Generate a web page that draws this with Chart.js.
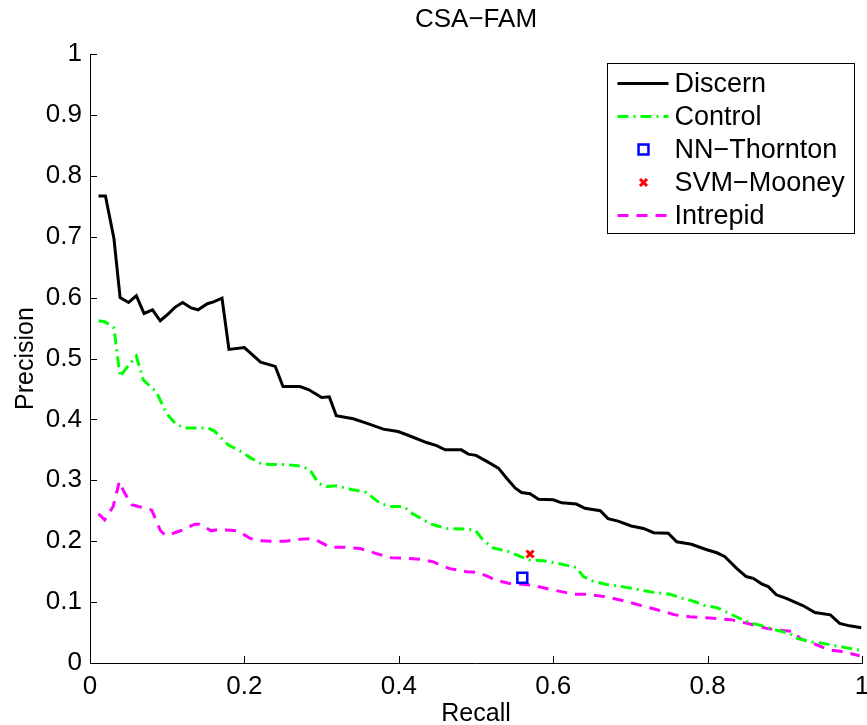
<!DOCTYPE html>
<html>
<head>
<meta charset="utf-8">
<title>CSA−FAM</title>
<script src="https://cdn.jsdelivr.net/npm/chart.js@4/dist/chart.umd.min.js"></script>
<style>
  html, body { margin: 0; padding: 0; background: #fff; }
  #wrap { width: 867px; height: 725px; }
</style>
</head>
<body>
<div id="wrap"><canvas id="prChart"></canvas></div>
<script>
// precision / recall values
const discernRecall = [0.011,0.020,0.031,0.039,0.050,0.060,0.070,0.081,0.091,0.101,0.110,0.120,0.131,0.140,0.152,0.160,0.171,0.180,0.200,0.221,0.240,0.250,0.272,0.283,0.291,0.300,0.310,0.319,0.341,0.358,0.380,0.399,0.412,0.436,0.449,0.460,0.481,0.490,0.500,0.514,0.529,0.540,0.551,0.559,0.570,0.581,0.600,0.611,0.630,0.641,0.661,0.671,0.684,0.701,0.717,0.730,0.749,0.760,0.779,0.799,0.812,0.822,0.838,0.850,0.859,0.870,0.879,0.889,0.902,0.924,0.939,0.959,0.971,0.984,0.999];
const discernPrecision = [0.767,0.767,0.697,0.600,0.592,0.603,0.574,0.580,0.562,0.573,0.584,0.592,0.583,0.580,0.590,0.593,0.599,0.515,0.518,0.494,0.487,0.454,0.454,0.449,0.443,0.436,0.437,0.406,0.401,0.394,0.384,0.380,0.374,0.362,0.357,0.350,0.350,0.343,0.341,0.331,0.320,0.303,0.287,0.280,0.278,0.269,0.268,0.263,0.261,0.254,0.250,0.237,0.233,0.225,0.221,0.214,0.213,0.199,0.195,0.186,0.181,0.175,0.155,0.142,0.139,0.130,0.125,0.112,0.106,0.094,0.083,0.079,0.065,0.061,0.058];

const controlRecall = [0.011,0.020,0.031,0.039,0.045,0.060,0.069,0.086,0.099,0.110,0.121,0.140,0.153,0.162,0.179,0.192,0.209,0.222,0.233,0.253,0.274,0.285,0.296,0.306,0.319,0.339,0.358,0.376,0.389,0.406,0.417,0.432,0.442,0.462,0.484,0.499,0.509,0.522,0.542,0.557,0.570,0.587,0.604,0.630,0.639,0.652,0.669,0.691,0.708,0.730,0.751,0.768,0.783,0.797,0.812,0.829,0.842,0.855,0.874,0.889,0.907,0.917,0.933,0.950,0.967,0.984,0.997];
const controlPrecision = [0.562,0.560,0.550,0.470,0.481,0.504,0.465,0.445,0.410,0.394,0.386,0.386,0.386,0.380,0.358,0.350,0.336,0.327,0.326,0.326,0.323,0.317,0.295,0.290,0.291,0.285,0.280,0.262,0.257,0.257,0.246,0.235,0.228,0.221,0.220,0.218,0.202,0.189,0.183,0.175,0.169,0.168,0.164,0.157,0.142,0.134,0.129,0.125,0.121,0.116,0.113,0.106,0.101,0.094,0.091,0.081,0.073,0.066,0.060,0.054,0.048,0.040,0.035,0.032,0.028,0.024,0.021];

const thorntonRecall = [0.560];
const thorntonPrecision = [0.140];
const mooneyRecall = [0.570];
const mooneyPrecision = [0.179];

const intrepidRecall = [0.011,0.019,0.030,0.038,0.044,0.054,0.063,0.080,0.084,0.091,0.097,0.108,0.119,0.136,0.142,0.157,0.166,0.183,0.192,0.207,0.216,0.235,0.253,0.270,0.287,0.296,0.311,0.330,0.350,0.370,0.390,0.410,0.430,0.445,0.455,0.466,0.488,0.501,0.516,0.525,0.542,0.572,0.596,0.626,0.643,0.661,0.678,0.695,0.712,0.730,0.758,0.777,0.803,0.831,0.855,0.876,0.892,0.911,0.920,0.937,0.959,0.974,0.997];
const intrepidPrecision = [0.245,0.235,0.257,0.298,0.281,0.260,0.257,0.251,0.239,0.218,0.210,0.213,0.218,0.228,0.228,0.217,0.219,0.218,0.217,0.205,0.201,0.200,0.200,0.203,0.204,0.200,0.190,0.190,0.188,0.180,0.173,0.172,0.170,0.166,0.160,0.155,0.150,0.149,0.142,0.136,0.131,0.128,0.121,0.113,0.113,0.110,0.106,0.101,0.095,0.089,0.079,0.076,0.074,0.071,0.064,0.057,0.054,0.052,0.040,0.032,0.021,0.019,0.012];

const xTicks = [0, 0.2, 0.4, 0.6, 0.8, 1];
const yTicks = [0, 0.1, 0.2, 0.3, 0.4, 0.5, 0.6, 0.7, 0.8, 0.9, 1];
const chartTitle = 'CSA−FAM';

const FONT = '"Liberation Sans", Arial, Helvetica, sans-serif';

function pairs(xs, ys) {
    return xs.map((x, i) => ({ x: x, y: ys[i] }));
}

function tickText(v) {
    return String(Number(v.toFixed(1)));
}

// MATLAB style ticks pointing into the axes, x labels drawn here so the
// last one may hang over the right edge like in the figure
const innerTicks = {
    id: 'innerTicks',
    beforeDatasetsDraw(chart) {
        const { ctx, chartArea, scales } = chart;
        ctx.save();
        ctx.strokeStyle = '#000';
        ctx.lineWidth = 1;
        ctx.beginPath();
        scales.x.ticks.forEach(t => {
            const px = Math.round(scales.x.getPixelForValue(t.value)) + 0.5;
            ctx.moveTo(px, chartArea.bottom);
            ctx.lineTo(px, chartArea.bottom - 7);
        });
        scales.y.ticks.forEach(t => {
            const py = Math.round(scales.y.getPixelForValue(t.value)) + 0.5;
            ctx.moveTo(chartArea.left, py);
            ctx.lineTo(chartArea.left + 7, py);
        });
        ctx.stroke();

        ctx.fillStyle = '#000';
        ctx.font = '26px ' + FONT;
        ctx.textAlign = 'center';
        ctx.textBaseline = 'middle';
        scales.x.ticks.forEach(t => {
            ctx.fillText(tickText(t.value), scales.x.getPixelForValue(t.value), chartArea.bottom + 24);
        });
        ctx.restore();
    }
};

// title centred over the axes, not over the whole canvas
const axesTitle = {
    id: 'axesTitle',
    afterDraw(chart) {
        const { ctx, chartArea } = chart;
        ctx.save();
        ctx.fillStyle = '#000';
        ctx.font = '26px ' + FONT;
        ctx.textAlign = 'center';
        ctx.textBaseline = 'middle';
        ctx.fillText(chartTitle, (chartArea.left + chartArea.right) / 2, 20);
        ctx.restore();
    }
};

// boxed legend in the upper right corner of the axes
const boxLegend = {
    id: 'boxLegend',
    afterDraw(chart) {
        const { ctx, chartArea } = chart;
        const w = 247, h = 170;
        const x0 = Math.round(chartArea.right - 8 - w) + 0.5;
        const y0 = Math.round(chartArea.top + 9) + 0.5;
        ctx.save();
        ctx.fillStyle = '#fff';
        ctx.fillRect(x0, y0, w, h);
        ctx.strokeStyle = '#000';
        ctx.lineWidth = 1;
        ctx.strokeRect(x0, y0, w, h);
        chart.data.datasets.forEach((ds, i) => {
            const y = y0 + 20 + i * 33;
            if (ds.showLine) {
                ctx.save();
                ctx.strokeStyle = ds.borderColor;
                ctx.lineWidth = ds.borderWidth;
                ctx.setLineDash(ds.borderDash || []);
                ctx.beginPath();
                ctx.moveTo(x0 + 10, y);
                ctx.lineTo(x0 + 61, y);
                ctx.stroke();
                ctx.restore();
            } else {
                ctx.save();
                ctx.strokeStyle = ds.borderColor;
                ctx.fillStyle = ds.backgroundColor;
                ctx.lineWidth = ds.borderWidth;
                Chart.helpers.drawPoint(ctx, {
                    pointStyle: ds.pointStyle,
                    radius: ds.pointRadius,
                    borderWidth: ds.borderWidth,
                    rotation: 0
                }, x0 + 36, y);
                ctx.restore();
            }
            ctx.fillStyle = '#000';
            ctx.font = '27px ' + FONT;
            ctx.textBaseline = 'middle';
            ctx.textAlign = 'left';
            ctx.fillText(ds.label, x0 + 67, y + 1);
        });
        ctx.restore();
    }
};

const ctx = document.getElementById('prChart').getContext('2d');
const prChart = new Chart(ctx, {
    type: 'scatter',
    data: {
        datasets: [
            {
                label: 'Discern',
                data: pairs(discernRecall, discernPrecision),
                showLine: true,
                borderColor: '#000000',
                borderWidth: 3,
                pointRadius: 0
            },
            {
                label: 'Control',
                data: pairs(controlRecall, controlPrecision),
                showLine: true,
                borderColor: '#00ff00',
                borderWidth: 3,
                borderDash: [11, 5, 2, 5],
                pointRadius: 0
            },
            {
                label: 'NN−Thornton',
                data: pairs(thorntonRecall, thorntonPrecision),
                showLine: false,
                pointStyle: 'rect',
                pointRadius: 7,
                borderColor: '#0000ff',
                backgroundColor: '#ffffff',
                borderWidth: 2.5
            },
            {
                label: 'SVM−Mooney',
                data: pairs(mooneyRecall, mooneyPrecision),
                showLine: false,
                pointStyle: 'crossRot',
                pointRadius: 5,
                borderColor: '#ff0000',
                backgroundColor: '#ff0000',
                borderWidth: 3
            },
            {
                label: 'Intrepid',
                data: pairs(intrepidRecall, intrepidPrecision),
                showLine: true,
                borderColor: '#ff00ff',
                borderWidth: 3,
                borderDash: [11, 8],
                pointRadius: 0
            }
        ]
    },
    options: {
        responsive: true,
        maintainAspectRatio: false,
        animation: false,
        events: [],
        layout: { autoPadding: false, padding: { left: 0, right: 5, top: 54, bottom: 0 } },
        elements: { line: { tension: 0 } },
        plugins: {
            legend: { display: false },
            tooltip: { enabled: false },
            title: { display: false }
        },
        scales: {
            x: {
                type: 'linear',
                min: 0,
                max: 1,
                afterBuildTicks: s => { s.ticks = xTicks.map(v => ({ value: v })); },
                afterFit: s => { s.height = 62; },
                grid: { display: false, drawTicks: false },
                border: { display: true, color: '#000', width: 1 },
                ticks: { display: false },
                title: {
                    display: true,
                    text: 'Recall',
                    color: '#000',
                    font: { family: FONT, size: 25 },
                    padding: { top: 0, bottom: -4 }
                }
            },
            y: {
                type: 'linear',
                min: 0,
                max: 1,
                afterBuildTicks: s => { s.ticks = yTicks.map(v => ({ value: v })); },
                afterFit: s => { s.width = 90; s.paddingTop = 0; s.paddingBottom = 0; },
                grid: { display: false, drawTicks: false },
                border: { display: true, color: '#000', width: 1 },
                ticks: {
                    color: '#000',
                    padding: 8,
                    font: { family: FONT, size: 26 },
                    callback: v => tickText(v)
                },
                title: {
                    display: true,
                    text: 'Precision',
                    color: '#000',
                    font: { family: FONT, size: 25 },
                    padding: { top: 11, bottom: 0 }
                }
            }
        }
    },
    plugins: [innerTicks, axesTitle, boxLegend]
});
</script>
</body>
</html>
